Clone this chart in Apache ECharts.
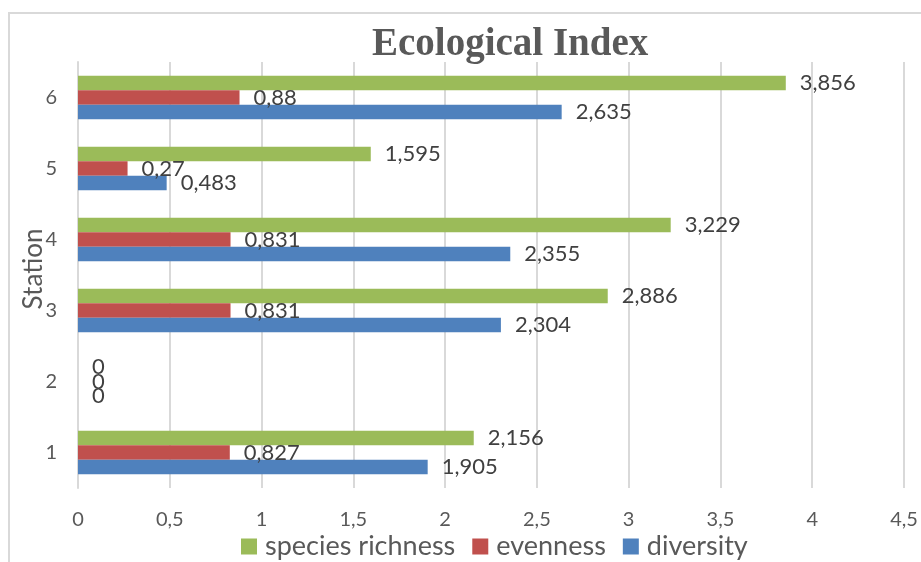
<!DOCTYPE html>
<html>
<head>
<meta charset="utf-8">
<script src="https://cdn.jsdelivr.net/npm/echarts@6/dist/echarts.min.js"></script>
<style>html,body{margin:0;padding:0;background:#fff}#c{width:921px;height:562px}</style>
</head>
<body>
<div id="c"></div>
<script>
const stations = ['1', '2', '3', '4', '5', '6'];
const diversity = [1.905, 0, 2.304, 2.355, 0.483, 2.635];
const evenness = [0.827, 0, 0.831, 0.831, 0.27, 0.88];
const speciesRichness = [2.156, 0, 2.886, 3.229, 1.595, 3.856];
const legendOrder = ['species richness', 'evenness', 'diversity'];

const FONT = 'Lato';
const comma = v => String(v).replace('.', ',');
const lbl = {
  show: true, position: 'right', distance: 14,
  color: '#404040', fontSize: 22, fontFamily: FONT,
  formatter: p => comma(p.value)
};
const chart = echarts.init(document.getElementById('c'), null, {renderer: 'canvas'});
chart.setOption({
  animation: false,
  backgroundColor: '#fff',
  title: {
    text: 'Ecological Index', left: 367, top: 20,
    textStyle: {fontFamily: 'Liberation Serif', fontWeight: 'bold', fontSize: 39, color: '#595959'}
  },
  graphic: [{
    type: 'rect', shape: {x: 9, y: 13, width: 1000, height: 1000},
    style: {fill: 'none', stroke: '#D9D9D9', lineWidth: 2}, silent: true
  }],
  legend: {
    data: legendOrder, left: 236, top: 528, itemWidth: 16, itemHeight: 16, itemGap: 17,
    icon: 'rect',
    textStyle: {fontFamily: FONT, fontSize: 27, color: '#595959', padding: [0, 0, 0, 3]}
  },
  grid: {left: 78, right: 17, top: 62, bottom: 74, containLabel: false, outerBoundsMode: 'none'},
  xAxis: {
    type: 'value', min: 0, max: 4.5, interval: 0.5,
    axisLine: {show: false}, axisTick: {show: false},
    splitLine: {lineStyle: {color: '#D9D9D9', width: 2}},
    axisLabel: {color: '#595959', fontSize: 20, fontFamily: FONT, margin: 22, formatter: v => comma(v)}
  },
  yAxis: {
    type: 'category', data: stations,
    name: 'Station', nameLocation: 'middle', nameRotate: 90, nameGap: 31,
    nameMoveOverlap: false,
    nameTextStyle: {color: '#595959', fontSize: 26, fontFamily: FONT, padding: [0, 0, 0, 12]},
    axisLine: {show: true, lineStyle: {color: '#D9D9D9', width: 2}},
    axisTick: {show: false},
    axisLabel: {color: '#595959', fontSize: 20, fontFamily: FONT, margin: 21}
  },
  series: [
    {name: 'species richness', type: 'bar', data: speciesRichness, barGap: '0%', barCategoryGap: '39%',
     itemStyle: {color: '#9BBB59'}, label: lbl},
    {name: 'evenness', type: 'bar', data: evenness, barGap: '0%', barCategoryGap: '39%',
     itemStyle: {color: '#C0504D'}, label: lbl},
    {name: 'diversity', type: 'bar', data: diversity, barGap: '0%', barCategoryGap: '39%',
     itemStyle: {color: '#4F81BD'}, label: lbl}
  ]
});
</script>
</body>
</html>
